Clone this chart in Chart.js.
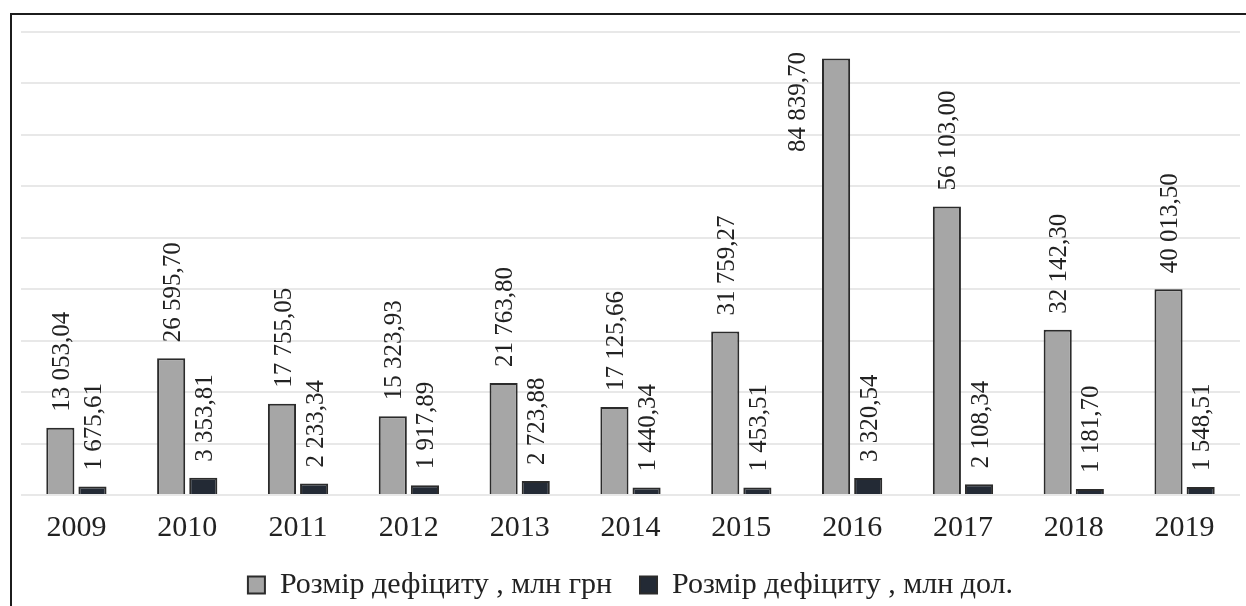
<!DOCTYPE html>
<html>
<head>
<meta charset="utf-8">
<script src="https://cdn.jsdelivr.net/npm/chart.js@4"></script>
<style>
    html, body { margin: 0; padding: 0; background: #fff; overflow: hidden; }
    #frame {
        position: absolute; left: 10px; top: 13px;
        width: 1236px; height: 595px;
        border-left: 2px solid #1c1c1c; border-top: 2px solid #1c1c1c;
    }
    #box { position: absolute; left: 0; top: 0; width: 1234px; height: 595px; }
</style>
</head>
<body>
<div id="frame"><div id="box"><canvas id="chartDeficit"></canvas></div></div>
<script>
/**
 * Years
 */
const years = ['2009', '2010', '2011', '2012', '2013', '2014', '2015', '2016', '2017', '2018', '2019'];

/**
 * Deficit, mln UAH
 */
const deficitUah = [13053.04, 26595.70, 17755.05, 15323.93, 21763.80, 17125.66, 31759.27, 84839.70, 56103.00, 32142.30, 40013.50];

/**
 * Deficit, mln USD
 */
const deficitUsd = [1675.61, 3353.81, 2233.34, 1917.89, 2723.88, 1440.34, 1453.51, 3320.54, 2108.34, 1181.70, 1548.51];

/**
 * Series names
 */
const seriesNames = ['Розмір дефіциту , млн грн', 'Розмір дефіциту , млн дол.'];

const FONT = '"Liberation Serif", "Times New Roman", serif';

/**
 * 13 053,04 style
 */
function fmt(v) {
    const parts = v.toFixed(2).split('.');
    return parts[0].replace(/\B(?=(\d{3})+(?!\d))/g, ' ') + ',' + parts[1];
}

/**
 * Rotated value labels above bars
 */
const valueLabels = {
    id: 'valueLabels',
    afterDatasetsDraw(chart) {
        const { ctx, chartArea } = chart;
        ctx.save();
        ctx.font = '25px ' + FONT;
        ctx.fillStyle = '#222';
        ctx.textBaseline = 'middle';
        ctx.textAlign = 'left';
        chart.data.datasets.forEach((ds, i) => {
            chart.getDatasetMeta(i).data.forEach((bar, j) => {
                const text = fmt(ds.data[j]);
                const w = ctx.measureText(text).width;
                let x = bar.x + 2;
                let y = bar.y - 16;
                if (y - w < chartArea.top + 20) {
                    x = bar.x - bar.width / 2 - 24;
                    y = chartArea.top + 20 + w;
                }
                ctx.save();
                ctx.translate(x, y);
                ctx.rotate(-Math.PI / 2);
                ctx.fillText(text, 0, 0);
                ctx.restore();
            });
        });
        ctx.restore();
    }
};

const legendPad = 28;

new Chart(document.getElementById('chartDeficit'), {
    type: 'bar',
    data: {
        labels: years,
        datasets: [
            {
                label: seriesNames[0],
                data: deficitUah,
                backgroundColor: '#a6a6a6',
                borderColor: '#2b2b2b',
                borderWidth: 2,
                categoryPercentage: 0.58,
                barPercentage: 0.875
            },
            {
                label: seriesNames[1],
                data: deficitUsd,
                backgroundColor: '#232a35',
                borderColor: '#2b2b2b',
                borderWidth: 2,
                categoryPercentage: 0.58,
                barPercentage: 0.875
            }
        ]
    },
    options: {
        responsive: true,
        maintainAspectRatio: false,
        animation: false,
        layout: { padding: { left: 9, right: 6, top: 17, bottom: 0 } },
        plugins: {
            tooltip: { enabled: false },
            legend: {
                position: 'bottom',
                labels: {
                    boxWidth: 17,
                    boxHeight: 17,
                    padding: legendPad,
                    color: '#222',
                    font: { family: FONT, size: 30 }
                }
            }
        },
        scales: {
            x: {
                grid: { display: false, drawTicks: false },
                border: { display: false },
                ticks: { color: '#222', padding: 15, font: { family: FONT, size: 30 } },
                afterFit: (scale) => { scale.height = 75 - legendPad; }
            },
            y: {
                min: 0,
                max: 90000,
                ticks: { display: false, stepSize: 10000 },
                grid: { color: '#e8e8e8', lineWidth: 2, drawTicks: false },
                border: { display: false }
            }
        }
    },
    plugins: [valueLabels]
});
</script>
</body>
</html>
